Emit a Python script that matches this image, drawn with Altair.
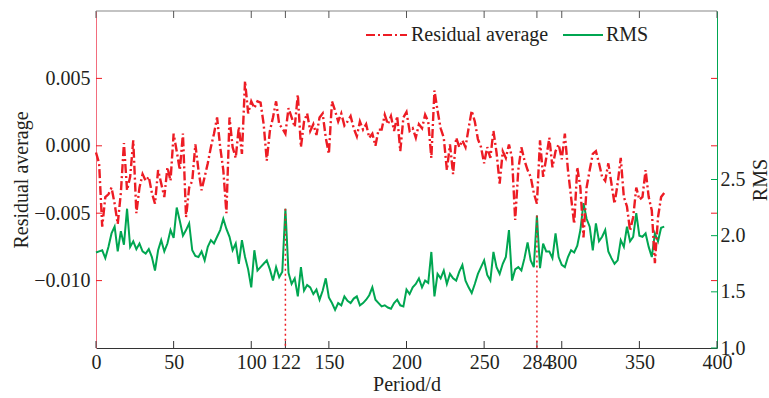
import altair as alt
import pandas as pd

# ---------------- data ----------------
days = list(range(0, 367, 2))

# residual average, in units of 1e-3
resid_milli = [
    -0.5, -1.3, -6.0, -3.8, -3.6, -3.1, -4.3, -5.8, -3.5, 0.2,
    -3.3, -2.3, 0.4, -5.0, -3.1, -2.1, -2.6, -2.3, -3.5, -4.3,
    -1.8, -2.8, -3.8, -1.6, -2.6, 0.9, -0.4, -1.8, 0.9, -5.3,
    -3.1, -2.6, 0.1, -1.8, -3.3, -2.3, -1.3, -0.1, 0.9, 2.1,
    -0.1, -1.8, -5.0, 2.1, -0.1, -0.9, 1.4, -0.6, 4.8, 2.4,
    3.3, 2.8, 3.3, 3.2, 1.6, -1.1, 1.1, 2.1, 3.3, 1.6,
    1.3, 0.9, 2.8, 2.1, 1.4, 3.8, -0.1, 1.8, 2.4, 1.1,
    1.6, 0.8, 2.1, 2.4, 0.6, -0.6, 3.3, 2.6, 1.8, 2.4,
    1.5, 1.8, 2.2, 1.3, 0.7, 1.8, 1.2, 1.6, 0.6, 0.9,
    0.0, 1.2, 1.2, 2.3, 1.6, 2.2, 1.1, 2.2, -0.4, 2.1,
    2.5, 1.1, 1.3, 0.6, 1.6, 1.3, 2.3, 1.8, -0.9, 4.1,
    2.6, 1.3, 0.6, -1.8, 0.1, -2.1, 0.6, -0.1, 0.4, -0.1,
    1.3, 2.6, 1.8, 0.5, -0.1, -1.3, -0.1, -0.9, 1.1, -0.5,
    -2.8, -0.4, -0.9, 0.1, -0.9, -5.5, -1.8, -0.1, -1.1, -1.8,
    -2.3, -3.5, -4.3, 0.4, -2.3, -0.9, 0.6, -1.6, -0.4, 0.1,
    -1.0, 0.9, -1.8, -3.8, -5.8, -1.6, -3.1, -6.8, -3.1, -1.8,
    -0.6, -0.4, -1.3, -2.3, -2.6, -1.3, -2.8, -4.3, -2.8, -0.9,
    -3.8, -4.5, -6.3, -5.3, -3.1, -4.0, -3.8, -1.8, -3.8, -4.8,
    -8.7, -5.3, -3.8, -3.5,
]

rms_values = [
    1.85, 1.86, 1.87, 1.80, 1.90, 2.02, 2.08, 1.86, 2.04, 1.92,
    2.24, 1.90, 1.95, 1.88, 1.93, 1.86, 1.84, 1.88, 1.81, 1.69,
    1.87, 1.96, 1.86, 1.93, 2.05, 1.98, 2.25, 2.13, 2.00, 2.05,
    2.11, 1.87, 1.82, 1.81, 1.86, 1.78, 1.90, 1.96, 1.93, 1.99,
    2.05, 2.15, 2.06, 1.99, 1.87, 1.93, 1.75, 1.96, 1.81, 1.70,
    1.54, 1.87, 1.69, 1.72, 1.75, 1.78, 1.70, 1.60, 1.72, 1.63,
    1.68, 2.24, 1.67, 1.57, 1.62, 1.46, 1.72, 1.51, 1.56, 1.54,
    1.48, 1.52, 1.43, 1.51, 1.62, 1.45, 1.40, 1.34, 1.40, 1.38,
    1.46, 1.42, 1.40, 1.44, 1.46, 1.38, 1.40, 1.43, 1.47, 1.54,
    1.43, 1.40, 1.37, 1.38, 1.36, 1.35, 1.40, 1.43, 1.38, 1.37,
    1.52, 1.48, 1.54, 1.57, 1.62, 1.54, 1.60, 1.58, 1.855, 1.46,
    1.66, 1.62, 1.69, 1.57, 1.66, 1.62, 1.60, 1.68, 1.74, 1.60,
    1.54, 1.49, 1.57, 1.66, 1.72, 1.78, 1.65, 1.60, 1.855, 1.72,
    1.66, 1.75, 1.81, 2.05, 1.60, 1.70, 1.72, 1.69, 1.80, 1.94,
    1.78, 1.72, 2.18, 1.71, 1.93, 1.86, 1.86, 1.80, 2.02, 1.81,
    1.74, 1.72, 1.81, 1.87, 1.85, 1.91, 2.05, 2.29, 2.15, 2.08,
    1.87, 2.11, 1.95, 1.99, 2.05, 1.86, 1.80, 1.75, 1.78, 1.96,
    1.90, 2.08, 1.95, 1.99, 2.20, 2.00, 1.99, 2.02, 1.90, 1.81,
    2.02, 1.95, 2.07, 2.08,
]

x_tick_values = [0, 50, 100, 122, 150, 200, 250, 284, 300, 350, 400]
left_tick_values = [-0.010, -0.005, 0.000, 0.005]
right_tick_values = [1.0, 1.5, 2.0, 2.5]
marked_days = [122, 284]
series_names = ["Residual average", "RMS"]

assert len(days) == len(resid_milli) == len(rms_values)

# ---------------- styling ----------------
RED = "#ed1c24"
PINK = "#f26d7d"
GREEN = "#00a651"
TEXT = "#231f20"
FONT = "Liberation Serif"
W, H = 621, 337

df = pd.DataFrame({
    "day": days,
    "resid": [v / 1000.0 for v in resid_milli],
    "rms": rms_values,
})
marks_df = df[df["day"].isin(marked_days)]

x_scale = alt.Scale(domain=[0, 400], nice=False, zero=False)
l_scale = alt.Scale(domain=[-0.015, 0.010], nice=False, zero=False)
r_scale = alt.Scale(domain=[1.0, 4.0], nice=False, zero=False)

x_axis = alt.Axis(values=x_tick_values, title="Period/d", ticks=False,
                  domainColor="#333333", domainWidth=1.2,
                  labelPadding=4, titlePadding=2,
                  labelFlush=False, labelOverlap=False, grid=False)


def X(field="day"):
    return alt.X(f"{field}:Q", scale=x_scale, axis=x_axis, title="Period/d")


base = alt.Chart(df)

green_line = base.mark_line(color=GREEN, strokeWidth=2).encode(
    x=X(),
    y=alt.Y("rms:Q", scale=r_scale,
            axis=alt.Axis(orient="right", values=right_tick_values, format=".1f",
                          title="RMS", titleAngle=270, titleBaseline="top",
                          titlePadding=5,
                          ticks=False, domainColor=GREEN, labelPadding=3,
                          labelOverlap=False, labelFlush=False, grid=False)),
)

red_line = base.mark_line(color=RED, strokeWidth=2.4, strokeDash=[9, 3, 2, 3]).encode(
    x=X(),
    y=alt.Y("resid:Q", scale=l_scale,
            axis=alt.Axis(orient="left", values=left_tick_values, format=".3f",
                          title="Residual average", titlePadding=2,
                          ticks=False, domainColor=PINK, labelPadding=6,
                          labelOverlap=False, labelFlush=False, grid=False)),
)

marked = alt.Chart(marks_df).mark_rule(color=RED, strokeDash=[2, 3], strokeWidth=1.5).encode(
    x=X(),
    y=alt.Y("rms:Q", scale=r_scale, axis=None),
    y2=alt.datum(1.0),
)

xt = pd.DataFrame({"day": x_tick_values})
bottom_ticks = alt.Chart(xt).mark_rule(color="#333333").encode(
    x=X(), y=alt.value(H), y2=alt.value(H - 7))
top_ticks = alt.Chart(xt).mark_rule(color="#555555").encode(
    x=X(), y=alt.value(0), y2=alt.value(7))

lt = pd.DataFrame({"v": left_tick_values})
left_ticks = alt.Chart(lt).mark_rule(color=RED).encode(
    y=alt.Y("v:Q", scale=l_scale, axis=None), x=alt.value(0), x2=alt.value(6))
right_red_ticks = alt.Chart(lt).mark_rule(color=RED).encode(
    y=alt.Y("v:Q", scale=l_scale, axis=None), x=alt.value(W - 6), x2=alt.value(W))

rt = pd.DataFrame({"v": right_tick_values})
right_green_ticks = alt.Chart(rt).mark_rule(color=GREEN).encode(
    y=alt.Y("v:Q", scale=r_scale, axis=None), x=alt.value(W - 6), x2=alt.value(W))

one = pd.DataFrame({"k": [0]})
top_border = alt.Chart(one).mark_rule(color="#888888", strokeWidth=1.2).encode(
    x=alt.value(0), x2=alt.value(W), y=alt.value(0))

# legend
leg_y = 24
leg_red = alt.Chart(one).mark_rule(color=RED, strokeWidth=2, strokeDash=[9, 3, 2, 3]).encode(
    x=alt.value(270), x2=alt.value(311), y=alt.value(leg_y))
leg_red_t = alt.Chart(one).mark_text(text=series_names[0], font=FONT, fontSize=20,
                                     color=TEXT, align="left", baseline="middle").encode(
    x=alt.value(315), y=alt.value(leg_y))
leg_green = alt.Chart(one).mark_rule(color=GREEN, strokeWidth=2).encode(
    x=alt.value(467), x2=alt.value(507), y=alt.value(leg_y))
leg_green_t = alt.Chart(one).mark_text(text=series_names[1], font=FONT, fontSize=20,
                                       color=TEXT, align="left", baseline="middle").encode(
    x=alt.value(510), y=alt.value(leg_y))

chart = alt.layer(
    green_line, top_border, bottom_ticks, top_ticks, left_ticks, right_red_ticks,
    right_green_ticks, marked, red_line, leg_red, leg_red_t, leg_green, leg_green_t,
).resolve_scale(y="independent").properties(
    width=W, height=H,
    autosize=alt.AutoSizeParams(type="none"),
    padding={"left": 96, "top": 11, "right": 52, "bottom": 50},
    background="white",
).configure_view(stroke=None).configure_axis(
    labelFont=FONT, titleFont=FONT, labelFontSize=20, titleFontSize=20,
    labelColor=TEXT, titleColor=TEXT, titleFontWeight="normal",
)

chart.save("out.html", embed_options={"renderer": "svg", "actions": False})
